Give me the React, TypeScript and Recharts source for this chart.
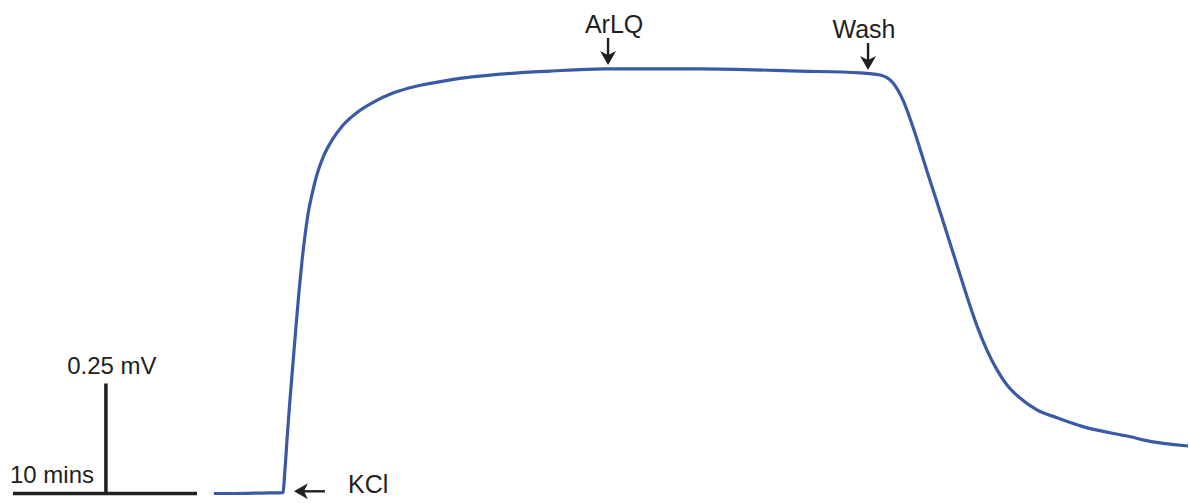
import React from 'react';
import {
  LineChart,
  Line,
  XAxis,
  YAxis,
  ReferenceLine,
  ReferenceDot,
} from 'recharts';

// Recording trace: time in minutes, potential in mV above baseline
const TIME_MIN = [
  10.92, 12.0, 13.5, 14.67, 14.78, 14.89, 15.05, 15.22, 15.38, 15.54,
  15.71, 15.87, 16.03, 16.25, 16.52, 16.85, 17.34, 17.93, 18.7, 19.57,
  20.65, 21.96, 23.75, 26.47, 29.18, 32.17, 37.34, 42.77, 46.03, 47.12,
  47.83, 48.37, 48.91, 49.67, 50.54, 51.47, 51.85, 52.39, 52.93, 53.48,
  54.01, 54.73, 55.65, 56.74, 58.15, 59.62, 60.73, 61.41, 63.86,
];
const TRACE_MV = [
  0, 0, 0.001, 0.002, 0.053, 0.121, 0.212, 0.298, 0.38, 0.457,
  0.53, 0.586, 0.634, 0.68, 0.725, 0.764, 0.803, 0.837, 0.866, 0.889,
  0.91, 0.926, 0.94, 0.953, 0.96, 0.965, 0.965, 0.96, 0.956, 0.951,
  0.933, 0.894, 0.833, 0.733, 0.62, 0.497, 0.447, 0.381, 0.326, 0.281,
  0.247, 0.217, 0.19, 0.172, 0.152, 0.138, 0.129, 0.122, 0.108,
];

// Drug application markers
const EVENT_LABELS = ['KCl', 'ArLQ', 'Wash'];
const EVENT_TIME = [15.27, 32.34, 46.47];
const EVENT_MV = [0.005, 0.974, 0.9625];
const EVENT_DIR = ['left', 'down', 'down'];

// Scale bars
const SCALE_TIME_LABEL = '10 mins';
const SCALE_TIME = 10;
const SCALE_MV_LABEL = '0.25 mV';
const SCALE_MV = 0.25;
const SCALE_MV_AT = 5.05;

const WIDTH = 1189;
const HEIGHT = 503;
const PX_PER_MIN = 18.4;
const PX_PER_MV = 440;
const X_MIN = -13 / PX_PER_MIN;
const X_MAX = X_MIN + WIDTH / PX_PER_MIN;
const Y_MAX = 493.5 / PX_PER_MV;
const Y_MIN = Y_MAX - HEIGHT / PX_PER_MV;

const INK = '#231f20';
const FONT = '"Liberation Sans", Arial, Helvetica, sans-serif';

const data = TIME_MIN.map((t, i) => ({ t, mv: TRACE_MV[i] }));

const ArrowMarker = (label: string, dir: string) => (props: any) => {
  const { cx, cy } = props;
  if (dir === 'left') {
    return (
      <g>
        <line x1={cx + 31} y1={cy} x2={cx + 6} y2={cy} stroke={INK} strokeWidth={2.4} />
        <path d={`M${cx},${cy} L${cx + 14},${cy - 8} L${cx + 10},${cy} L${cx + 14},${cy + 8} Z`} fill={INK} />
        <text x={cx + 54} y={cy + 2} fontSize={25} fontFamily={FONT} fill={INK}>
          {label}
        </text>
      </g>
    );
  }
  return (
    <g>
      <line x1={cx} y1={cy - 27} x2={cx} y2={cy - 6} stroke={INK} strokeWidth={2.4} />
      <path d={`M${cx},${cy} L${cx - 8},${cy - 14} L${cx},${cy - 10} L${cx + 8},${cy - 14} Z`} fill={INK} />
      <text
        x={cx + (label === 'Wash' ? -4 : 6)}
        y={cy - 32}
        fontSize={25}
        fontFamily={FONT}
        fill={INK}
        textAnchor="middle"
      >
        {label}
      </text>
    </g>
  );
};

const ScaleText = (label: string, dx: number, dy: number, anchor: string) => (props: any) => (
  <text
    x={props.cx + dx}
    y={props.cy + dy}
    fontSize={24}
    fontFamily={FONT}
    fill={INK}
    textAnchor={anchor as any}
  >
    {label}
  </text>
);

export default function App() {
  return (
    <div style={{ position: 'absolute', left: 0, top: 0, background: '#fff' }}>
      <LineChart width={WIDTH} height={HEIGHT} data={data} margin={{ top: 0, right: 0, bottom: 0, left: 0 }}>
        <XAxis type="number" dataKey="t" domain={[X_MIN, X_MAX]} allowDataOverflow hide />
        <YAxis type="number" domain={[Y_MIN, Y_MAX]} allowDataOverflow hide />

        {/* scale bars */}
        <ReferenceLine
          segment={[{ x: 0, y: 0 }, { x: SCALE_TIME, y: 0 }]}
          stroke={INK}
          strokeWidth={3.5}
        />
        <ReferenceLine
          segment={[{ x: SCALE_MV_AT, y: 0 }, { x: SCALE_MV_AT, y: SCALE_MV }]}
          stroke={INK}
          strokeWidth={3.5}
        />
        <ReferenceDot x={SCALE_MV_AT} y={SCALE_MV} r={0} shape={ScaleText(SCALE_MV_LABEL, 6, -10, 'middle')} />
        <ReferenceDot x={0} y={0} r={0} shape={ScaleText(SCALE_TIME_LABEL, -3, -11, 'start')} />

        <Line
          type="monotone"
          dataKey="mv"
          stroke="#3a5aa8"
          strokeWidth={3.2}
          dot={false}
          activeDot={false}
          isAnimationActive={false}
        />

        {EVENT_LABELS.map((label, i) => (
          <ReferenceDot
            key={label}
            x={EVENT_TIME[i]}
            y={EVENT_MV[i]}
            r={0}
            shape={ArrowMarker(label, EVENT_DIR[i])}
          />
        ))}
      </LineChart>
    </div>
  );
}
